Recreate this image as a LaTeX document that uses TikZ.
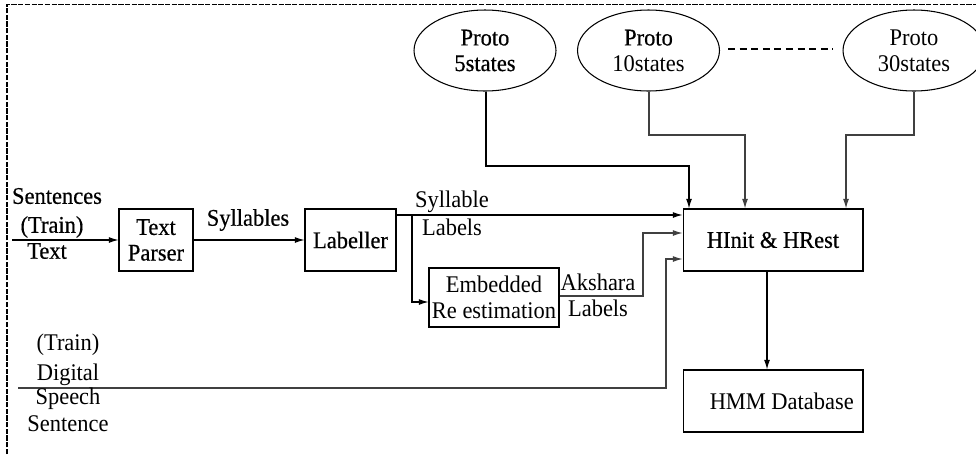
\documentclass[tikz,border=0pt]{standalone}
\usepackage{fontspec}
\setmainfont[FakeStretch=0.94]{Liberation Serif}
\newfontfamily\heavyfont[FakeStretch=0.94, FakeBold=0.5]{Liberation Serif}
\usetikzlibrary{shapes.geometric,arrows.meta}
\begin{document}
\begin{tikzpicture}[x=0.02cm,y=-0.02cm,
  every node/.style={font=\fontsize{13.6}{14.6}\selectfont, inner sep=0pt},
  heavy/.style={font=\heavyfont\fontsize{13.6}{14.6}\selectfont},
  box/.style={draw, line width=0.6pt, rectangle, align=center},
  proto/.style={draw, line width=0.6pt, ellipse, minimum width=2.84cm, minimum height=1.62cm, align=center},
  lbl/.style={align=center},
  wire/.style={line width=0.6pt},
  greywire/.style={line width=0.6pt, draw=black!75},
  arr/.style={-{Latex[length=5.5pt,width=3.4pt]}},
  frame/.style={line width=0.6pt, dash pattern=on 3pt off 0.8pt}]

\useasboundingbox (0,0) rectangle (976,454);

% outer frame (top and left edges)
\draw[frame] (7,454) -- (7,4.5) -- (976,4.5);

% prototype models
\node[proto, heavy] (e1) at (485,50.5) {Proto\\5states};
\node[proto] (e2) at (648.5,50.5) {{\heavyfont Proto}\\10states};
\node[proto] (e3) at (914,50.5) {Proto\\30states};
\coordinate (d1) at (728,49);
\coordinate (d2) at (833,49);
\draw[wire, dash pattern=on 4pt off 2.6pt] (d1) -- (d2);

% processing blocks
\node[box, heavy, minimum width=1.48cm, minimum height=1.24cm] (tp) at (156,240) {Text\\Parser};
\node[box, heavy, minimum width=1.82cm, minimum height=1.24cm] (lab) at (350.5,240) {Labeller};
\node[box, minimum width=2.6cm, minimum height=1.18cm] (emb) at (494,297.5) {Embedded\\Re estimation};
\node[box, heavy, minimum width=3.6cm, minimum height=1.24cm] (hin) at (773,240) {HInit \& HRest};
\node[box, minimum width=3.6cm, minimum height=1.24cm] (hmm) at (773,401) {\hspace{10pt}HMM Database};

% free ends and bends
\coordinate (in) at (12,240);
\coordinate (sp) at (18,388);
\coordinate (br) at (412,215);
\coordinate (brd) at (412,302);
\coordinate (ak) at (643,296);
\coordinate (spu) at (666,388);

% text input chain
\draw[wire, arr] (in) -- (tp.west);
\draw[wire, arr] (tp.east) -- (lab.west);

% syllable labels
\draw[wire, arr] (lab.east |- br) -- (hin.west |- br);
\draw[wire, arr] (br) -- (brd) -- (emb.west |- brd);

% akshara labels
\draw[greywire, arr] (emb.east |- ak) -- (ak) -- (ak |- 0,233) -- (hin.west |- 0,233);

% speech input
\draw[greywire, arr] (sp) -- (spu) -- (spu |- 0,259) -- (hin.west |- 0,259);

% prototypes into HInit
\draw[wire, arr] (e1.south -| 486,0) -- (486,166) -- (689,166) -- (hin.north -| 689,0);
\draw[greywire, arr] (e2.south -| 649,0) -- (649,135) -- (745,135) -- (hin.north -| 745,0);
\draw[greywire, arr] (e3.south) -- (914,135) -- (846,135) -- (hin.north -| 846,0);

% output to database
\draw[wire, arr] (hin.south -| 767,0) -- (hmm.north -| 767,0);

% labels
\node[lbl, heavy] (t1) at (57,196) {Sentences};
\node[lbl, heavy] (t2) at (52,227) {(Train)};
\node[lbl, heavy] (t3) at (47,251) {Text};
\node[lbl, heavy] (t4) at (248,220) {Syllables};
\node[lbl] (t5) at (452,202) {Syllable};
\node[lbl] (t6) at (452,227) {Labels};
\node[lbl] (t7) at (598,282) {Akshara};
\node[lbl] (t8) at (598,308) {Labels};
\node[lbl] (t9) at (68,345) {(Train)};
\node[lbl] (t10) at (68,375) {Digital};
\node[lbl] (t11) at (68,399) {Speech};
\node[lbl] (t12) at (68,424) {Sentence};
\end{tikzpicture}
\end{document}
